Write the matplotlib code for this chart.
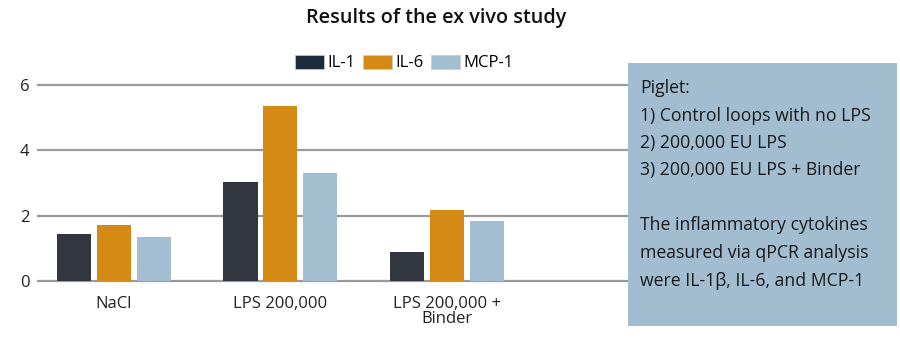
import matplotlib
matplotlib.use("Agg")
import matplotlib.pyplot as plt
import numpy as np
from matplotlib.patches import Rectangle

categories = ["NaCl", "LPS 200,000", "LPS 200,000 +\nBinder"]
series = ["IL-1", "IL-6", "MCP-1"]
il1 = [1.45, 3.03, 0.88]
il6 = [1.70, 5.37, 2.17]
mcp1 = [1.34, 3.31, 1.84]
yticks = [0, 2, 4, 6]
note_lines = [
    "Piglet:",
    "1) Control loops with no LPS",
    "2) 200,000 EU LPS",
    "3) 200,000 EU LPS + Binder",
    "",
    "The inflammatory cytokines",
    "measured via qPCR analysis",
    "were IL-1\u03b2, IL-6, and MCP-1",
]

colors = ["#31363f", "#d48a14", "#a3bed0"]
legend_colors = ["#1b2b3b", "#d48a14", "#a3bed0"]
plt.rcParams["font.family"] = ["Open Sans", "DejaVu Sans"]

fig = plt.figure(figsize=(9, 3.42), dpi=100)
ax = fig.add_axes([38 / 900, 1 - 281 / 342, (640 - 38) / 900, (281 - 85) / 342])

x = np.arange(len(categories))
width = 0.205
offset = 0.24
for i, (vals, c) in enumerate(zip([il1, il6, mcp1], colors)):
    ax.bar(x + (i - 1) * offset, vals, width, color=c, zorder=3)

ax.set_xlim(-0.456, 3.16)
ax.set_ylim(0, 6)
ax.set_yticks(yticks)
ax.set_xticks(x)
ax.set_xticklabels(categories, color="#222222", linespacing=0.92)
ax.tick_params(axis="both", length=0, labelsize=12, colors="#222222")
ax.tick_params(axis="x", pad=11)
ax.tick_params(axis="y", pad=6)
for t in yticks:
    ax.axhline(t, color="#9a9a9a", lw=1.6, zorder=1, clip_on=False)
for s in ax.spines.values():
    s.set_visible(False)

handles = [Rectangle((0, 0), 1, 1, facecolor=c, edgecolor="#cccccc", lw=0.5)
           for c in legend_colors]
fig.legend(handles, series, loc="center", bbox_to_anchor=(404 / 900, 1 - 63 / 342),
           ncol=3, frameon=False, fontsize=12, handlelength=1.75, handleheight=0.9,
           handletextpad=0.2, columnspacing=0.45)

fig.text(436 / 900, 1 - 18 / 342, "Results of the ex vivo study", ha="center",
         va="center", fontsize=14.2, fontweight="semibold", color="#111111")

fig.patches.append(Rectangle((628 / 900, 1 - 326 / 342), 269 / 900, 263 / 342,
                             transform=fig.transFigure, facecolor="#a2bdd0",
                             edgecolor="none", zorder=5))
for k, line in enumerate(note_lines):
    fig.text(640 / 900, 1 - (88 + 27.5 * k) / 342, line, ha="left", va="center",
             fontsize=12.7, color="#1a1a1a", zorder=6)

fig.savefig("out.png", dpi=100)
